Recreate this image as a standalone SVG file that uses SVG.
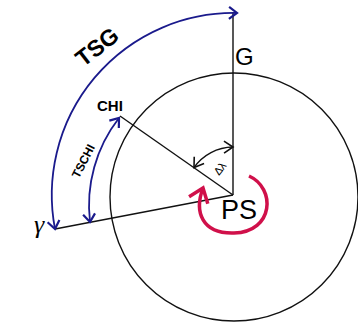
<svg xmlns="http://www.w3.org/2000/svg" width="358" height="324" viewBox="0 0 358 324">
<defs>
<style>
.bl{fill:none;stroke:#111;stroke-width:1.4}
.bu{fill:none;stroke:#1a1a8c;stroke-width:1.8}
.rd{fill:none;stroke:#d0104a;stroke-width:3.5}
.t{font-family:"Liberation Sans",Arial,sans-serif;fill:#000}
</style>
<marker id="ab" markerUnits="userSpaceOnUse" viewBox="-12 -8 14 16" markerWidth="14" markerHeight="16" refX="0" refY="0" orient="auto-start-reverse">
<path d="M -8 -6 L 0 0 L -8 6" fill="none" stroke="#1a1a8c" stroke-width="2.2"/>
</marker>
<marker id="ak" markerUnits="userSpaceOnUse" viewBox="-12 -8 14 16" markerWidth="14" markerHeight="16" refX="0" refY="0" orient="auto-start-reverse">
<path d="M -9 -6 L 0 0 L -9 6" fill="none" stroke="#111" stroke-width="1.6"/>
</marker>
<marker id="ar" markerUnits="userSpaceOnUse" viewBox="-16 -12 20 24" markerWidth="20" markerHeight="24" refX="0" refY="0" orient="auto">
<path d="M -13 -10 L 0 0 L -13 10" fill="none" stroke="#d0104a" stroke-width="3.5"/>
</marker>
</defs>
<rect width="358" height="324" fill="#fff"/>
<g id="circle"><circle class="bl" cx="234" cy="197" r="124"/></g>
<g id="connectors">
<line class="bl" x1="233" y1="12" x2="233" y2="195"/>
<line class="bl" x1="120" y1="116" x2="233" y2="195"/>
<line class="bl" x1="55" y1="229" x2="233" y2="195"/>
<path class="bu" d="M 55 229 A 182 182 0 0 1 237 13" marker-start="url(#ab)" marker-end="url(#ab)"/>
<path class="bu" d="M 90 222 A 142 142 0 0 1 119 118" marker-start="url(#ab)" marker-end="url(#ab)"/>
<path class="bl" d="M 194 167.5 A 48 48 0 0 1 233 147" marker-start="url(#ak)" marker-end="url(#ak)"/>
<path class="rd" d="M 249 176 C 276 188 274 232 234 233 C 202 234 194 212 203 188" marker-end="url(#ar)"/>
</g>
<g id="G"><text class="t" x="235" y="65" font-size="24">G</text></g>
<g id="PS"><text class="t" x="221" y="219" font-size="27">PS</text></g>
<g id="CHI"><text class="t" x="97" y="111" font-size="15" font-weight="bold">CHI</text></g>
<g id="TSG"><text class="t" x="0" y="0" font-size="23" font-weight="bold" text-anchor="middle" transform="translate(102,53) rotate(-38)">TSG</text></g>
<g id="TSCHI"><text class="t" x="0" y="0" font-size="12" font-weight="bold" text-anchor="middle" transform="translate(87,163) rotate(-63)">TSCHI</text></g>
<g id="dl"><text class="t" x="0" y="0" font-size="11" text-anchor="middle" transform="translate(223,171) rotate(-52)">Δλ</text></g>
<g id="gamma"><text x="34" y="233" font-size="26" font-style="italic" font-family="'Liberation Serif','Times New Roman',serif">γ</text></g>
</svg>
